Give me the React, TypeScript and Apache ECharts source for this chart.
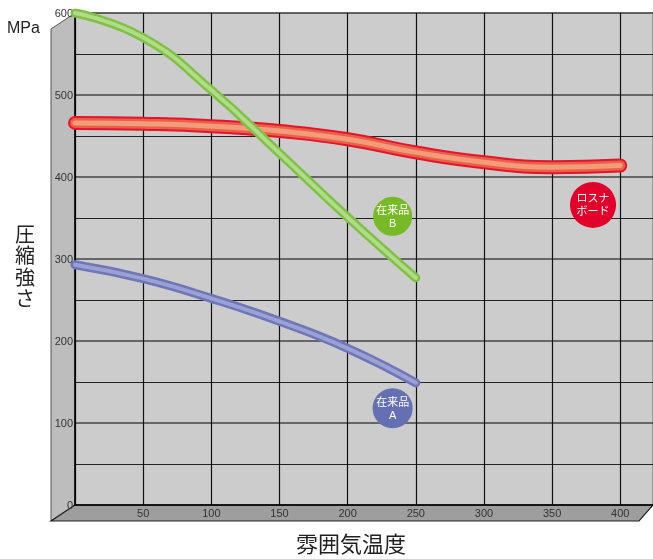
import React, { useEffect, useRef } from "react";
import * as echarts from "echarts";

// Temperature (°C) categories on the x axis
const temps = [0, 50, 100, 150, 200, 250, 300, 350, 400];
// Compressive strength (MPa)
const rosunaBoard = [466, 465, 462, 456, 446, 430, 418, 412, 414];
const conventionalB = [600, 570, 506, 429, 351, 277];
const conventionalA = [293, 276, 252, 224, 191, 149];

const seriesNames = ["ロスナボード", "在来品B", "在来品A"];
const bubbleLabels = ["ロスナ\nボード", "在来品\nB", "在来品\nA"];
// bubble anchor points in data space [temp, MPa]
const bubbleAt = [
  [380, 366],
  [233, 352],
  [233, 118],
];

const FONT = "'Liberation Sans', 'Noto Sans CJK JP', Arial, sans-serif";

function pairs(vals: number[]) {
  return vals.map((v, i) => [temps[i], v]);
}

export default function App() {
  const ref = useRef<HTMLDivElement>(null);
  useEffect(() => {
    document.body.style.margin = "0";
    const chart = echarts.init(ref.current!, null, { renderer: "svg" });
    const mk = (i: number, color: string, size: number) => ({
      symbol: "circle",
      symbolSize: size,
      silent: true,
      itemStyle: { color },
      label: {
        show: true,
        position: "inside",
        formatter: bubbleLabels[i],
        color: "#fff",
        fontSize: 11,
        lineHeight: 13,
        fontFamily: FONT,
      },
      data: [{ coord: bubbleAt[i] }],
    });
    const lineSeries = (
      name: string,
      vals: number[],
      width: number,
      color: string,
      z: number,
      markPoint?: any
    ) => ({
      type: "line",
      name,
      data: pairs(vals),
      smooth: 0.5,
      symbol: "none",
      silent: true,
      z,
      lineStyle: { width, color, cap: "round", join: "round" },
      markPoint,
    });
    chart.setOption({
      animation: false,
      grid: {
        left: 75,
        right: 0,
        top: 13,
        bottom: 54,
        show: true,
        backgroundColor: "#cccccc",
        borderColor: "#888",
        borderWidth: 1,
      },
      xAxis: {
        type: "value",
        min: 0,
        max: 424,
        interval: 50,
        axisLine: { show: true, lineStyle: { color: "#000", width: 1.5 } },
        axisTick: { show: false },
        axisLabel: {
          showMinLabel: false,
          showMaxLabel: false,
          color: "#333",
          fontSize: 11,
          margin: 2,
          fontFamily: FONT,
        },
        splitLine: { show: true, lineStyle: { color: "#111", width: 1.2 } },
      },
      yAxis: {
        type: "value",
        min: 0,
        max: 600,
        interval: 100,
        axisLine: { show: true, lineStyle: { color: "#000", width: 1.5 } },
        axisTick: { show: false },
        minorTick: { show: false, splitNumber: 2 },
        axisLabel: { color: "#333", fontSize: 11, margin: 2, fontFamily: FONT },
        splitLine: { show: true, lineStyle: { color: "#444", width: 1.5 } },
        minorSplitLine: { show: true, lineStyle: { color: "#222", width: 1.2 } },
      },
      graphic: [
        {
          type: "polygon",
          shape: { points: [[51, 29], [75, 13], [75, 505], [51, 521]] },
          style: { fill: "#bdbdbd", stroke: "#555", lineWidth: 1 },
          z: -1,
        },
        {
          type: "polygon",
          shape: { points: [[75, 505], [653, 505], [639, 521], [51, 521]] },
          style: { fill: "#9e9e9e", stroke: "#222", lineWidth: 1.2 },
          z: -1,
        },
        {
          type: "text",
          left: 7,
          top: 19,
          style: { text: "MPa", fontSize: 16, fill: "#222", fontFamily: FONT },
        },
        {
          type: "text",
          left: 15,
          top: 224,
          style: {
            text: "圧\n縮\n強\nさ",
            fontSize: 20,
            lineHeight: 21.5,
            fill: "#222",
            fontFamily: FONT,
          },
        },
        {
          type: "text",
          left: 296,
          top: 533,
          style: { text: "雰囲気温度", fontSize: 22, fill: "#222", fontFamily: FONT },
        },
      ],
      series: [
        lineSeries(seriesNames[0], rosunaBoard, 14, "#e3142b", 3, mk(0, "#e0002a", 46)),
        lineSeries(seriesNames[0], rosunaBoard, 10, "#ec5f47", 4),
        lineSeries(seriesNames[0], rosunaBoard, 5, "#f29c7b", 5),
        lineSeries(seriesNames[1], conventionalB, 9, "#80c046", 6, mk(1, "#78b928", 39)),
        lineSeries(seriesNames[1], conventionalB, 4, "#b0dc88", 7),
        lineSeries(seriesNames[2], conventionalA, 9, "#6e76b8", 8, mk(2, "#6570b4", 40)),
        lineSeries(seriesNames[2], conventionalA, 4, "#9aa1d4", 9),
      ],
    });
    return () => chart.dispose();
  }, []);
  return (
    <div
      ref={ref}
      style={{ position: "fixed", left: 0, top: 0, width: 653, height: 559 }}
    />
  );
}
